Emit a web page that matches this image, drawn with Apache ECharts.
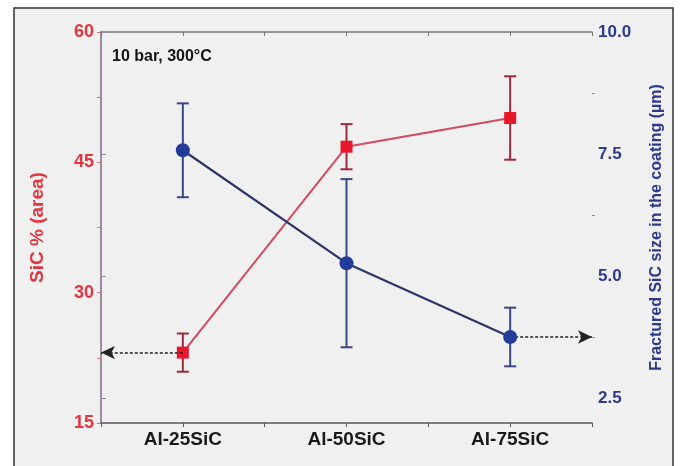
<!DOCTYPE html>
<html>
<head>
<meta charset="utf-8">
<script src="https://cdn.jsdelivr.net/npm/echarts@6/dist/echarts.min.js"></script>
<style>html,body{margin:0;padding:0;background:#fff}#c{width:683px;height:466px}</style>
</head>
<body>
<div id="c"></div>
<script>
var categories = ['Al-25SiC', 'Al-50SiC', 'Al-75SiC'];
var sicArea = [23.1, 46.8, 50.1];
var sicAreaErr = [2.2, 2.6, 4.8];
var sicSize = [7.58, 5.27, 3.76];
var sicSizeErr = [0.96, 1.72, 0.6];
var rightTicks = [2.5, 5.0, 7.5, 10.0];
var rightMinorTicks = [3.75, 6.25, 8.75];

var RED = '#e3353f', NAVY = '#2e3a8c';
var FONT = 'Liberation Sans';

function errData(vals, errs) {
  return vals.map(function (v, i) { return [i, v - errs[i], v + errs[i]]; });
}
function errRender(color) {
  return function (params, api) {
    var x = api.value(0);
    var lo = api.coord([x, api.value(1)]);
    var hi = api.coord([x, api.value(2)]);
    var w = 6;
    var st = { stroke: color, lineWidth: 2 };
    return {
      type: 'group',
      children: [
        { type: 'line', shape: { x1: lo[0], y1: lo[1], x2: hi[0], y2: hi[1] }, style: st },
        { type: 'line', shape: { x1: lo[0] - w, y1: lo[1], x2: lo[0] + w, y2: lo[1] }, style: st },
        { type: 'line', shape: { x1: hi[0] - w, y1: hi[1], x2: hi[0] + w, y2: hi[1] }, style: st }
      ]
    };
  };
}

var chart = echarts.init(document.getElementById('c'), null, { renderer: 'canvas' });
var n = categories.length;

chart.setOption({
  backgroundColor: '#ffffff',
  animation: false,
  graphic: [{
    type: 'rect', z: -10, silent: true,
    shape: { x: 14, y: 8, width: 659, height: 470 },
    style: { fill: '#f0f0f0', stroke: '#333', lineWidth: 1.5 }
  }],
  title: {
    text: '10 bar, 300°C', left: 107, top: 44,
    textStyle: { fontFamily: FONT, fontWeight: 'bold', fontSize: 16, color: '#151515' }
  },
  grid: { left: 101, right: 91, top: 32, bottom: 43 },
  xAxis: [
    { type: 'category', data: categories, position: 'bottom', boundaryGap: true,
      axisLine: { show: false }, axisTick: { show: false },
      axisLabel: { margin: 7, fontFamily: FONT, fontWeight: 'bold', fontSize: 19, color: '#1a1a1a' } },
    { type: 'value', min: 0, max: n, interval: 0.5, position: 'bottom',
      axisLine: { show: true, lineStyle: { color: '#555', width: 1.5 } },
      axisTick: { show: true, length: 4, lineStyle: { color: '#555' } },
      axisLabel: { show: false }, splitLine: { show: false } },
    { type: 'value', min: 0, max: n, interval: 0.5, position: 'top',
      axisLine: { show: true, lineStyle: { color: '#777', width: 1.5 } },
      axisTick: { show: true, inside: true, length: 4, lineStyle: { color: '#777' } },
      axisLabel: { show: false }, splitLine: { show: false } }
  ],
  yAxis: [
    { type: 'value', min: 15, max: 60, interval: 15, position: 'left',
      name: 'SiC % (area)', nameLocation: 'middle', nameGap: 54, nameRotate: 90,
      nameTextStyle: { fontFamily: FONT, fontWeight: 'bold', fontSize: 19, color: RED },
      axisLine: { show: true, lineStyle: { color: '#d0707c', width: 1.5 } },
      axisTick: { show: true, length: 4, lineStyle: { color: '#d0707c' } },
      minorTick: { show: true, splitNumber: 2, length: 4, lineStyle: { color: '#d0707c' } },
      axisLabel: { margin: 7, fontFamily: FONT, fontWeight: 'bold', fontSize: 18, color: RED },
      splitLine: { show: false } },
    { type: 'value', min: 2, max: 10, position: 'right',
      name: 'Fractured SiC size in the coating (µm)', nameLocation: 'middle', nameGap: 57, nameRotate: 90,
      nameTextStyle: { fontFamily: FONT, fontWeight: 'bold', fontSize: 16, color: NAVY },
      axisLine: { show: true, lineStyle: { color: '#8a8aa2', width: 1.5 } },
      axisTick: { show: true, length: 5, customValues: rightTicks, lineStyle: { color: '#8a8aa2' } },
      axisLabel: { margin: 6, fontFamily: FONT, fontWeight: 'bold', fontSize: 17, color: NAVY,
        customValues: rightTicks, formatter: function (v) { return v.toFixed(1); } },
      splitLine: { show: false } },
    { type: 'value', min: 2, max: 10, position: 'right',
      axisLine: { show: false },
      axisTick: { show: true, length: 3, customValues: rightMinorTicks, lineStyle: { color: '#8a8aa2' } },
      axisLabel: { show: false, customValues: rightMinorTicks },
      splitLine: { show: false } }
  ],
  series: [
    { type: 'line', name: 'SiC area', xAxisIndex: 0, yAxisIndex: 0, data: sicArea, z: 4,
      symbol: 'rect', symbolSize: 12, itemStyle: { color: '#e8182c' },
      lineStyle: { color: '#d24a5e', width: 2 } },
    { type: 'line', name: 'SiC size', xAxisIndex: 0, yAxisIndex: 1, data: sicSize, z: 5,
      symbol: 'circle', symbolSize: 14, itemStyle: { color: '#233c9a' },
      lineStyle: { color: '#2c3566', width: 2.2 } },
    { type: 'custom', xAxisIndex: 0, yAxisIndex: 0, z: 3, data: errData(sicArea, sicAreaErr),
      renderItem: errRender('#9a2a3c') },
    { type: 'custom', xAxisIndex: 0, yAxisIndex: 1, z: 3, data: errData(sicSize, sicSizeErr),
      renderItem: errRender('#3a4684') },
    { type: 'line', xAxisIndex: 1, yAxisIndex: 0, data: [], silent: true,
      markLine: { silent: true, symbol: ['none', 'arrow'], symbolSize: [10, 14], label: { show: false },
        lineStyle: { color: '#222', type: [3, 2], width: 1.6 },
        data: [[{ coord: [0.5, sicArea[0]] }, { coord: [0, sicArea[0]] }]] } },
    { type: 'line', xAxisIndex: 1, yAxisIndex: 1, data: [], silent: true,
      markLine: { silent: true, symbol: ['none', 'arrow'], symbolSize: [10, 14], label: { show: false },
        lineStyle: { color: '#222', type: [3, 2], width: 1.6 },
        data: [[{ coord: [n - 0.5, sicSize[n - 1]] }, { coord: [n, sicSize[n - 1]] }]] } }
  ]
});
</script>
</body>
</html>
